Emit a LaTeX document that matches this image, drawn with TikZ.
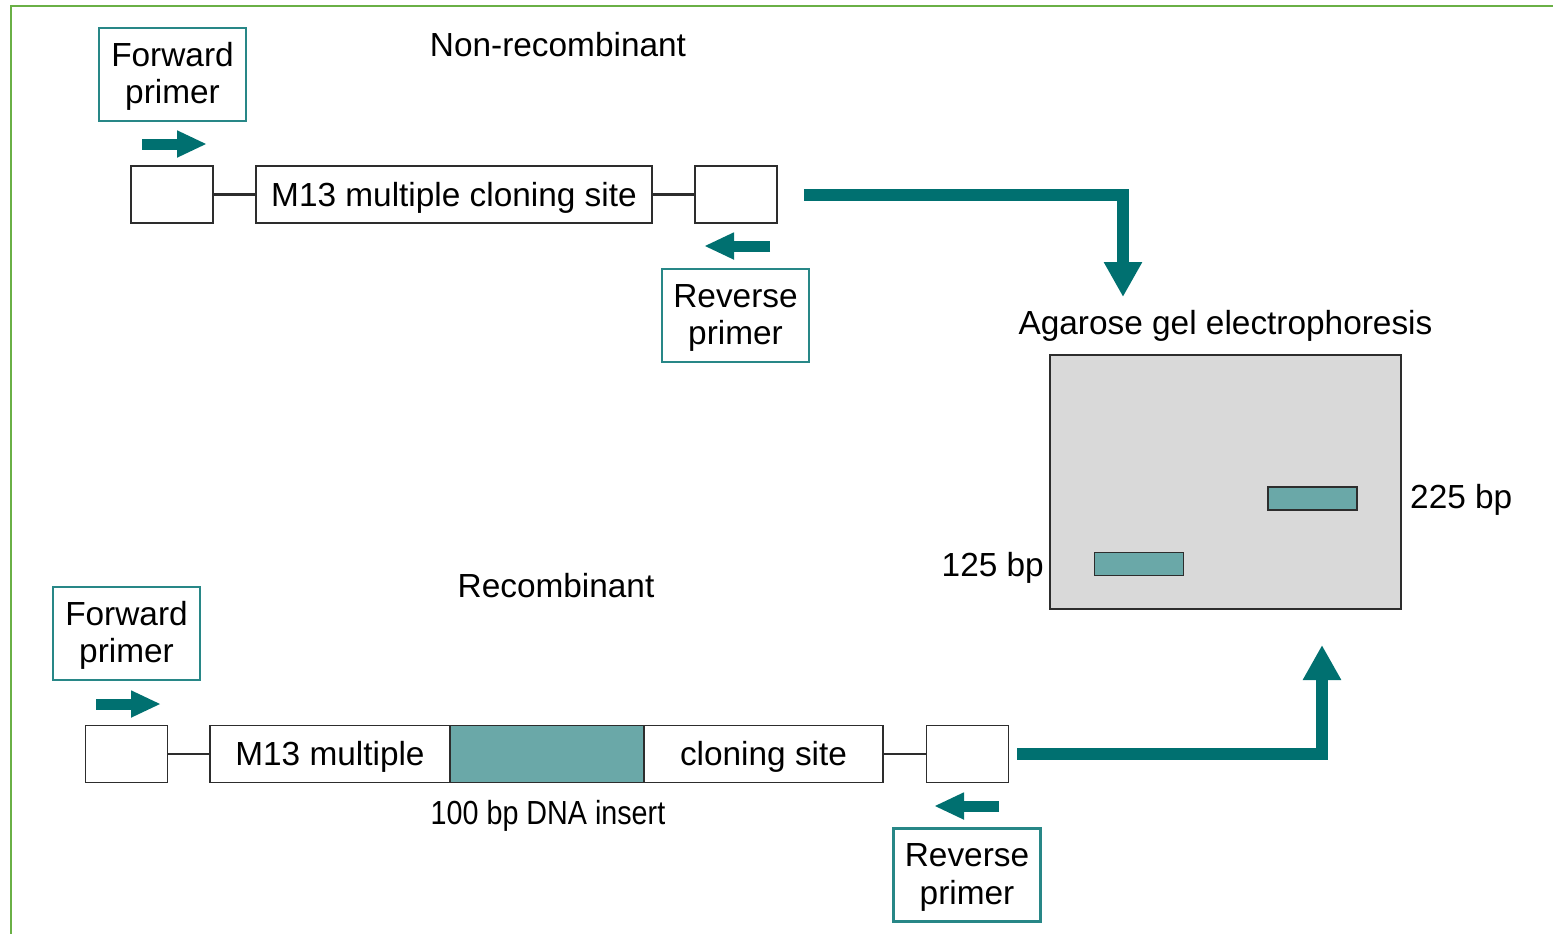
\documentclass[tikz,border=0pt]{standalone}
\usepackage{fontspec}
\setmainfont{Liberation Sans}
\newfontfamily\narrowfont[FakeStretch=0.86]{Liberation Sans}
\usetikzlibrary{arrows.meta}
\usetikzlibrary{positioning}
\definecolor{dnateal}{RGB}{0,112,112}
\definecolor{primerline}{RGB}{40,135,135}
\definecolor{bandfill}{RGB}{106,168,168}
\definecolor{gelfill}{RGB}{217,217,217}
\definecolor{boxline}{RGB}{45,45,45}
\definecolor{framegreen}{RGB}{106,176,70}
\tikzstyle{cprimer} = [draw=primerline, line width=1.2pt, align=center, minimum width=2.94cm, minimum height=1.86cm, inner sep=0pt, text height=37.5pt]
\tikzstyle{cend}    = [draw=boxline, line width=1.1pt, minimum width=1.64cm, minimum height=1.14cm, inner sep=0pt]
\tikzstyle{csite}   = [draw=boxline, line width=1.1pt, minimum height=1.14cm, inner sep=0pt, text height=13.6pt, text depth=0.5pt]
\tikzstyle{cband}   = [fill=bandfill, draw=boxline, line width=1.1pt, minimum width=1.78cm, minimum height=0.46cm, inner sep=0pt]
\tikzstyle{cwire}   = [draw=boxline, line width=1.3pt]
\tikzstyle{primerarrow} = [draw=dnateal, line width=0.22cm, -{Triangle[length=0.6cm,width=0.5cm]}]
\tikzstyle{bigarrow}    = [draw=dnateal, line width=0.24cm, -{Triangle[length=0.7cm,width=0.72cm]}]

\begin{document}
\begin{tikzpicture}[x=0.02cm, y=-0.02cm, font=\fontsize{19}{21.5}\selectfont]
     \useasboundingbox (0,0) rectangle (1553,934);
     \draw[framegreen, line width=1.2pt] (1553,6) -- (11,6) -- (11,934);
% non-recombinant
     \node (nonrec) at (558,45) {Non-recombinant};
     \node[cprimer] (fp1) at (172.5,74.5) {Forward\\primer};
     \draw[primerarrow] (142,144) -- (207,144);
     \node[cend] (s1) at (172,194.5) {};
     \node[csite, minimum width=7.92cm] (mcs) at (454,194.5) {M13 multiple cloning site};
     \node[cend] (s2) at (736,194.5) {};
     \draw[cwire] (s1) -- (mcs);
     \draw[cwire] (mcs) -- (s2);
     \draw[primerarrow] (770,246) -- (704,246);
     \node[cprimer] (rp1) at (735.5,315.5) {Reverse\\primer};
% recombinant
     \node (rec) at (556,586) {Recombinant};
     \node[cprimer] (fp2) at (126.5,633.5) {Forward\\primer};
     \draw[primerarrow] (96,704) -- (161,704);
     \node[cend] (s3) at (126.5,754) {};
     \node[csite, minimum width=4.8cm] (m13) at (330,754) {M13 multiple};
     \node[csite, minimum width=3.88cm, fill=bandfill] (ins) at (547,754) {};
     \node[csite, minimum width=4.78cm] (cs) at (763.5,754) {cloning site};
     \node[cend] (s4) at (967.5,754) {};
     \draw[cwire] (s3) -- (m13);
     \draw[cwire] (cs) -- (s4);
     \node (inslabel) at (548,816) {\narrowfont 100 bp DNA insert};
     \draw[primerarrow] (999,806) -- (934,806);
     \node[cprimer] (rp2) at (967,875) {Reverse\\primer};
% gel
     \node (agarose) at (1225.5,326) {Agarose gel electrophoresis};
     \node[draw=boxline, fill=gelfill, line width=1.6pt, minimum width=7.02cm, minimum height=5.08cm] (gel) at (1225.5,482) {};
     \node[cband] (b225) at (1312.5,498.5) {};
     \node[cband] (b125) at (1139,564) {};
     \node[anchor=west] (l225) at (1404,500) {225 bp};
     \node[anchor=east] (l125) at (1050,568) {125 bp};
     \coordinate (gtop) at (1123,297);
     \coordinate (gbot) at (1322,645);
     \draw[bigarrow] ([xshift=0.52cm]s2.east) -| (gtop);
     \draw[bigarrow] ([xshift=0.16cm]s4.east) -| (gbot);
\end{tikzpicture}
\end{document}
